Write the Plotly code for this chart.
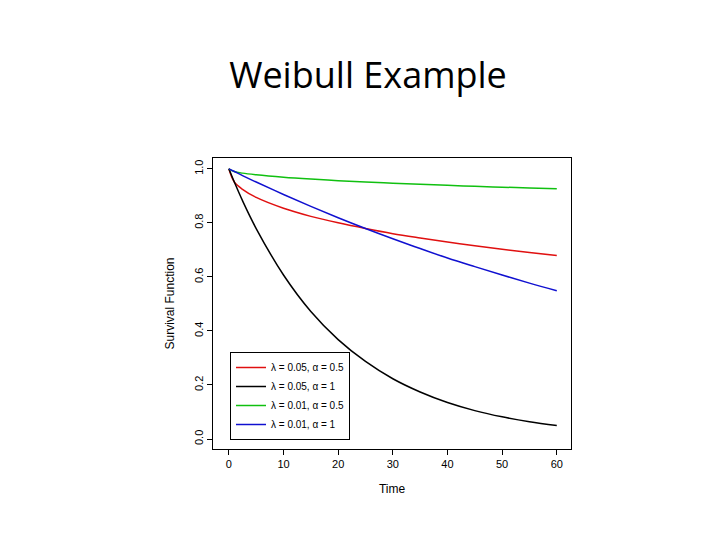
import plotly.graph_objects as go

time = [0, 1, 2.5, 5, 10, 15, 20, 25, 30, 35, 40, 45, 50, 55, 60]
s_l05_a05 = [1, .951, .924, .894, .854, .824, .800, .779, .760, .744, .729, .715, .702, .690, .679]
s_l05_a1 = [1, .951, .882, .779, .607, .472, .368, .287, .223, .174, .135, .105, .082, .064, .050]
s_l01_a05 = [1, .990, .984, .978, .969, .962, .956, .951, .947, .943, .939, .935, .932, .929, .926]
s_l01_a1 = [1, .990, .975, .951, .905, .861, .819, .779, .741, .705, .670, .638, .607, .577, .549]
names = ["λ = 0.05, α = 0.5", "λ = 0.05, α = 1", "λ = 0.01, α = 0.5", "λ = 0.01, α = 1"]
colors = ["#e01010", "black", "#10c010", "#1010d0"]

fig = go.Figure()
for ys, n, c in zip([s_l05_a05, s_l05_a1, s_l01_a05, s_l01_a1], names, colors):
    fig.add_trace(go.Scatter(x=time, y=ys, mode="lines", name=n,
                             line=dict(color=c, width=1.5, shape="spline")))

ax = dict(showgrid=False, zeroline=False, showline=True, mirror=True, linecolor="black",
          linewidth=1, ticks="outside", ticklen=5, tickcolor="black",
          tickfont=dict(family="Liberation Sans", size=11, color="black"))
fig.update_layout(
    width=720, height=540, plot_bgcolor="white", paper_bgcolor="white",
    margin=dict(l=0, r=0, t=0, b=0, autoexpand=False),
    title=dict(text="Weibull Example", x=0.5, y=0.875, xanchor="center", yanchor="middle",
               font=dict(family="Open Sans", size=36, color="black")),
    xaxis=dict(ax, domain=[205/720, 563/720], range=[-2.9, 62.6], tickvals=[0, 10, 20, 30, 40, 50, 60],
               title=dict(text="Time", font=dict(family="Liberation Sans", size=12, color="black"))),
    yaxis=dict(ax, domain=[1-441/540, 1-150/540], range=[-0.037, 1.04],
               tickvals=[0, .2, .4, .6, .8, 1.0], ticktext=["0.0", "0.2", "0.4", "0.6", "0.8", "1.0"],
               tickangle=-90,
               title=dict(text="Survival Function", font=dict(family="Liberation Sans", size=12, color="black"))),
    legend=dict(x=222/720, y=1-432/540, xanchor="left", yanchor="bottom", bordercolor="black", borderwidth=1,
                bgcolor="white", font=dict(family="Liberation Sans", size=10, color="black"),
                tracegroupgap=0),
)
fig.write_html("out.html")
